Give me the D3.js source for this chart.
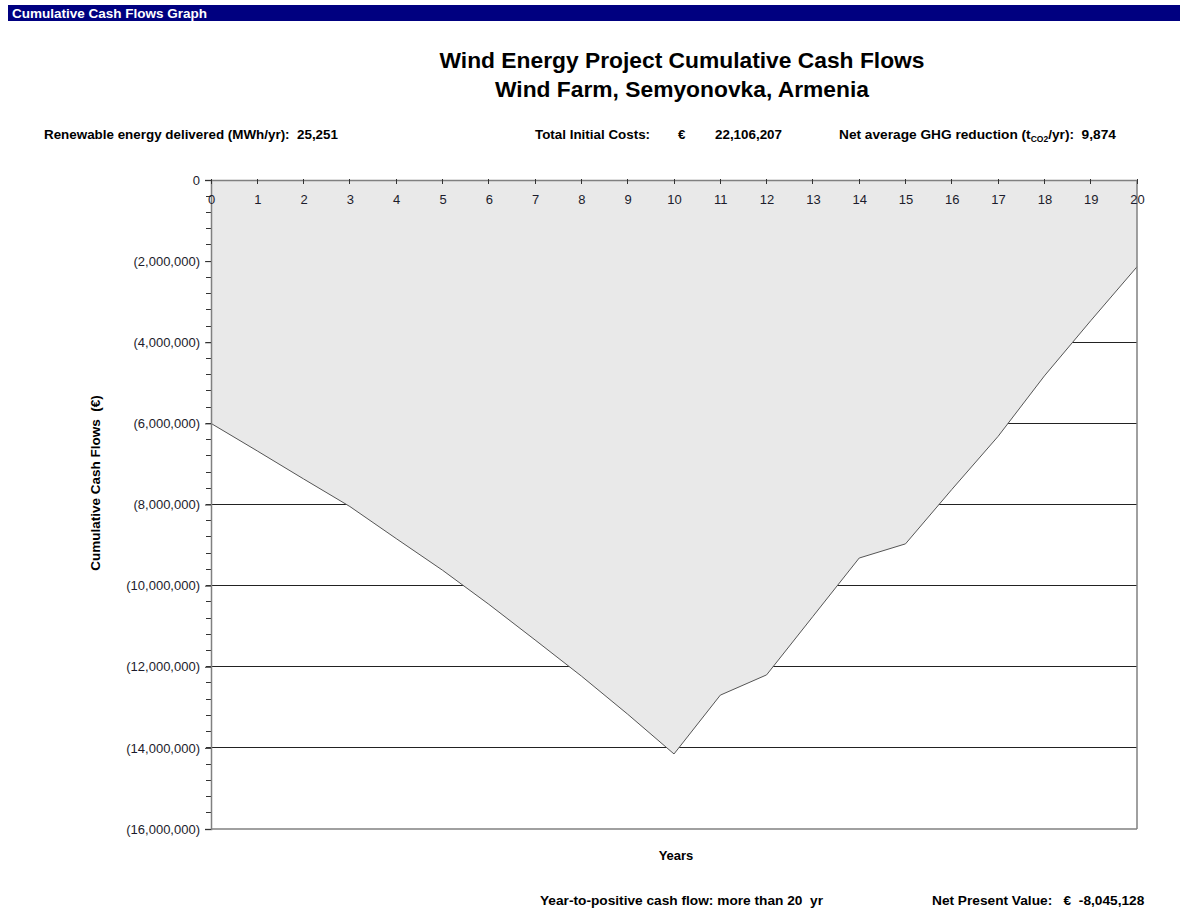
<!doctype html>
<html lang="en">
<head>
  <meta charset="utf-8">
  <title>Cumulative Cash Flows Graph</title>
<style>
 body{ margin:0; background:#fff; font-family:"Liberation Sans", Arial, sans-serif; }
 #chart{ width:1180px; height:922px; }
 text{ white-space:pre; }
 .axis text{ font-family:"Liberation Sans", Arial, sans-serif; font-size:13px; fill:#1c1c2c; }
</style>
</head>
<body>
<div id="chart"></div>
<script src="https://d3js.org/d3.v7.min.js"></script>
<script type="text/javascript">

var years = d3.range(0, 21);
var cumulative = [-6000000, -6680000, -7370000, -8050000, -8840000, -9620000,
                  -10460000, -11340000, -12230000, -13170000, -14150000,
                  -12700000, -12200000, -10760000, -9320000, -8970000,
                  -7630000, -6320000, -4830000, -3470000, -2140000];
var yTicks = [0, -2000000, -4000000, -6000000, -8000000, -10000000, -12000000, -14000000, -16000000];

var chartWidth = 1180, chartHeight = 922;
var plotLeft = 211, plotRight = 1137, plotTop = 180, plotBottom = 829;

var svg = d3.select('#chart').append('svg')
  .attr('width', chartWidth).attr('height', chartHeight);

// header bar
svg.append('rect').attr('x', 8).attr('y', 5).attr('width', 1172).attr('height', 16).attr('fill', '#000080');
svg.append('text').attr('x', 12).attr('y', 18).text('Cumulative Cash Flows Graph')
  .attr('fill', '#fff').attr('font-weight', 'bold').attr('font-size', '13.5px');

// titles
svg.append('text').attr('x', 682).attr('y', 68).attr('text-anchor', 'middle')
  .attr('font-weight', 'bold').attr('font-size', '22.8px').text('Wind Energy Project Cumulative Cash Flows');
svg.append('text').attr('x', 682).attr('y', 97).attr('text-anchor', 'middle')
  .attr('font-weight', 'bold').attr('font-size', '22.8px').text('Wind Farm, Semyonovka, Armenia');

var info = svg.append('g').attr('font-weight', 'bold').attr('font-size', '13.4px').attr('fill', '#000');
info.append('text').attr('x', 44).attr('y', 139).text('Renewable energy delivered (MWh/yr):  25,251');
info.append('text').attr('x', 535).attr('y', 139).text('Total Initial Costs:');
info.append('text').attr('x', 678).attr('y', 139).text('€');
info.append('text').attr('x', 715).attr('y', 139).text('22,106,207');
var ghg = info.append('text').attr('x', 839).attr('y', 139).attr('font-size', '13.7px');
ghg.append('tspan').text('Net average GHG reduction (t');
ghg.append('tspan').attr('font-size', '8.5px').attr('dy', 3).text('CO2');
ghg.append('tspan').attr('dy', -3).text('/yr):  9,874');

var xscale = d3.scaleLinear().domain([0, 20]).range([plotLeft, plotRight]);
var yscale = d3.scaleLinear().domain([-16000000, 0]).range([plotBottom, plotTop]);

// gridlines
svg.append('g').selectAll('line').data(yTicks.filter(function(d){ return d < 0 && d > -16000000; }))
  .enter().append('line')
  .attr('x1', plotLeft).attr('x2', plotRight)
  .attr('y1', function(d){ return yscale(d); }).attr('y2', function(d){ return yscale(d); })
  .attr('stroke', '#222').attr('stroke-width', 1).attr('shape-rendering', 'crispEdges');

// area between 0 and cumulative line
var area = d3.area()
  .x(function(d, i){ return xscale(years[i]); })
  .y0(yscale(0))
  .y1(function(d){ return yscale(d); });
svg.append('path').datum(cumulative).attr('d', area).attr('fill', '#e9e9e9');

var line = d3.line()
  .x(function(d, i){ return xscale(years[i]); })
  .y(function(d){ return yscale(d); });
svg.append('path').datum(cumulative).attr('d', line)
  .attr('fill', 'none').attr('stroke', '#555').attr('stroke-width', 1);

// frame
svg.append('line').attr('x1', plotRight).attr('x2', plotRight).attr('y1', plotTop).attr('y2', plotBottom)
  .attr('stroke', '#808080').attr('stroke-width', 1.5);
svg.append('line').attr('x1', plotLeft).attr('x2', plotRight).attr('y1', plotBottom).attr('y2', plotBottom)
  .attr('stroke', '#808080').attr('stroke-width', 1.5);

// y axis with minor ticks
var yminor = svg.append('g');
yminor.selectAll('line').data(d3.range(0, -16000001, -400000)).enter().append('line')
  .attr('x1', plotLeft - 5).attr('x2', plotLeft)
  .attr('y1', function(d){ return yscale(d); }).attr('y2', function(d){ return yscale(d); })
  .attr('stroke', '#333').attr('shape-rendering', 'crispEdges');

var yaxis = d3.axisLeft(yscale).tickValues(yTicks).tickSize(6).tickPadding(5)
  .tickFormat(function(d){ return d === 0 ? '0' : '(' + d3.format(',')(-d) + ')'; });
svg.append('g').attr('class', 'axis y-axis')
  .attr('transform', 'translate(' + plotLeft + ',0)')
  .call(yaxis)
  .call(function(g){ g.select('.domain').attr('stroke', '#808080').attr('stroke-width', 1.5); })
  .call(function(g){ g.selectAll('.tick line').attr('stroke', '#333'); });

// x axis along the zero line
var xaxis = d3.axisBottom(xscale).ticks(20).tickSize(0).tickPadding(15).tickFormat(d3.format('d'));
svg.append('g').attr('class', 'axis x-axis')
  .attr('transform', 'translate(0,' + plotTop + ')')
  .call(xaxis)
  .call(function(g){ g.select('.domain').attr('stroke', '#808080').attr('stroke-width', 1.5); });
svg.append('g').selectAll('line').data(years).enter().append('line')
  .attr('x1', function(d){ return xscale(d); }).attr('x2', function(d){ return xscale(d); })
  .attr('y1', plotTop - 1).attr('y2', plotTop + 4)
  .attr('stroke', '#333').attr('shape-rendering', 'crispEdges');

// axis titles
svg.append('text').attr('transform', 'translate(100,483) rotate(-90)')
  .attr('text-anchor', 'middle').attr('font-weight', 'bold').attr('font-size', '13.5px')
  .text('Cumulative Cash Flows  (€)');
svg.append('text').attr('x', 676).attr('y', 860).attr('text-anchor', 'middle')
  .attr('font-weight', 'bold').attr('font-size', '13px').text('Years');

// footer
var foot = svg.append('g').attr('font-weight', 'bold').attr('font-size', '13.7px');
foot.append('text').attr('x', 540).attr('y', 905).text('Year-to-positive cash flow: more than 20  yr');
foot.append('text').attr('x', 932).attr('y', 905).text('Net Present Value:   €  -8,045,128');

</script>
</body>
</html>
